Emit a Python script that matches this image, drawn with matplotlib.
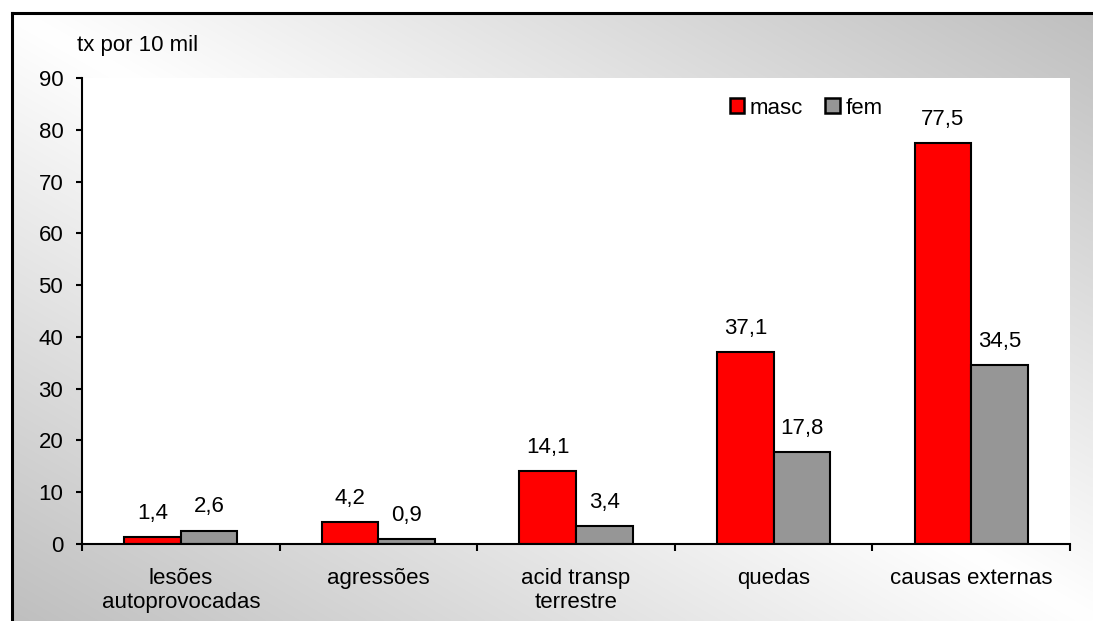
import numpy as np
import matplotlib
matplotlib.use("Agg")
import matplotlib.pyplot as plt
from matplotlib.patches import Patch

plt.rcParams['font.family'] = ['Liberation Sans', 'DejaVu Sans']

categorias = ["lesões\nautoprovocadas", "agressões", "acid transp\nterrestre",
              "quedas", "causas externas"]
masc = [1.4, 4.2, 14.1, 37.1, 77.5]
fem = [2.6, 0.9, 3.4, 17.8, 34.5]
yticks = list(range(0, 91, 10))

FS = 16

fig = plt.figure(figsize=(10.93, 6.21), dpi=100)
W, H = 1093, 621

# chart area with diagonal gray gradient and black frame
bg = fig.add_axes([12 / W, 0, 1 - 12 / W, 1 - 13 / H])
u = np.linspace(0, 1, 400)[None, :]
v = np.linspace(0, 1, 300)[:, None]
d = np.abs(u - v)
shade = (255 - 64 * d) / 255
bg.imshow(np.dstack([shade, shade, shade]), aspect='auto', extent=[0, 1, 0, 1],
          origin='upper', interpolation='bilinear')
bg.set_xticks([])
bg.set_yticks([])
for s in ['right', 'bottom']:
    bg.spines[s].set_visible(False)
for s in ['left', 'top']:
    bg.spines[s].set_linewidth(2.2)
    bg.spines[s].set_color('black')

ax = fig.add_axes([82 / W, 1 - 544 / H, (1070 - 82) / W, (544 - 78) / H])
ax.set_facecolor('white')

x = np.arange(len(categorias))
w = 0.286
b1 = ax.bar(x - w / 2, masc, w, color='#ff0000', edgecolor='black', linewidth=1.5, label='masc')
b2 = ax.bar(x + w / 2, fem, w, color='#969696', edgecolor='black', linewidth=1.5, label='fem')

for bars, vals in [(b1, masc), (b2, fem)]:
    for r, val in zip(bars, vals):
        ax.annotate(f"{val:.1f}".replace('.', ','),
                    (r.get_x() + r.get_width() / 2, val),
                    xytext=(0, 13), textcoords='offset points',
                    ha='center', va='baseline', fontsize=FS)

ax.set_xlim(-0.5, len(categorias) - 0.5)
ax.set_ylim(0, 90)
ax.set_yticks(yticks)
ax.tick_params(axis='y', direction='out', length=4.5, width=1.5, pad=9, labelsize=FS)

# ticks on category boundaries, labels centered under groups
ax.set_xticks(np.arange(-0.5, len(categorias), 1.0))
ax.set_xticklabels([])
ax.set_xticks(x, minor=True)
ax.set_xticklabels(categorias, minor=True, fontsize=FS)
ax.tick_params(axis='x', which='major', direction='out', length=5, width=1.5)
ax.tick_params(axis='x', which='minor', length=0, pad=17)

for s in ['top', 'right']:
    ax.spines[s].set_visible(False)
for s in ['left', 'bottom']:
    ax.spines[s].set_linewidth(1.5)

fig.text(77 / W, 1 - 45 / H, "tx por 10 mil", fontsize=FS, va='center', ha='left')

handles = [Patch(facecolor='#ff0000', edgecolor='black', linewidth=1.8),
           Patch(facecolor='#969696', edgecolor='black', linewidth=1.8)]
ax.legend(handles, ['masc', 'fem'], ncol=2, frameon=False, fontsize=FS,
          handlelength=0.65, handleheight=0.65, handletextpad=0.25,
          columnspacing=1.0, loc='center', bbox_to_anchor=(806 / W, 1 - 108 / H),
          bbox_transform=fig.transFigure)

fig.savefig("out.png", dpi=100)
